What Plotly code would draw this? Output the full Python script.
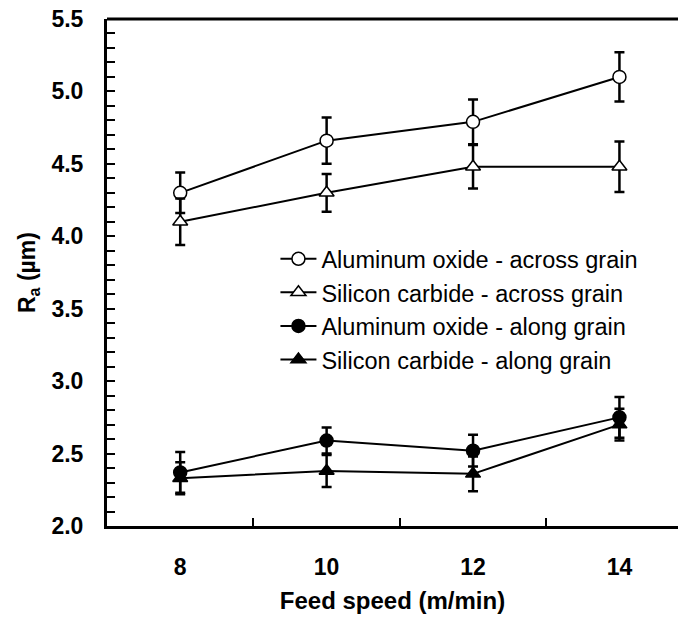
import plotly.graph_objects as go

# Feed speed (m/min)
feed_speed = [8, 10, 12, 14]

# Surface roughness Ra (µm) and error-bar half widths
al_across = [4.30, 4.66, 4.79, 5.10]
al_across_err = [0.14, 0.16, 0.155, 0.17]
si_across = [4.10, 4.30, 4.48, 4.48]
si_across_err = [0.16, 0.13, 0.15, 0.175]
al_along = [2.37, 2.59, 2.52, 2.75]
al_along_err = [0.14, 0.09, 0.11, 0.14]
si_along = [2.33, 2.38, 2.36, 2.70]
si_along_err = [0.11, 0.11, 0.12, 0.11]

series_names = [
    "Aluminum oxide - across grain",
    "Silicon carbide - across grain",
    "Aluminum oxide - along grain",
    "Silicon carbide - along grain",
]

x_tick_labels = ["8", "10", "12", "14"]

BLACK = "#000000"
FONT = "Liberation Sans, Arial, sans-serif"

fig = go.Figure()

series = [
    (al_across, al_across_err, "circle", "white"),
    (si_across, si_across_err, "triangle-up", "white"),
    (al_along, al_along_err, "circle", BLACK),
    (si_along, si_along_err, "triangle-up", BLACK),
]

for name, (vals, errs, symbol, fill) in zip(series_names, series):
    fig.add_trace(go.Scatter(
        x=feed_speed,
        y=vals,
        name=name,
        mode="lines+markers",
        line=dict(color=BLACK, width=2),
        marker=dict(symbol=symbol, size=13, color=fill,
                    line=dict(color=BLACK, width=1.5)),
        error_y=dict(type="data", array=errs, visible=True,
                     color=BLACK, thickness=2.5, width=5),
    ))

tick_font = dict(family=FONT, size=23, color=BLACK, weight="bold")

fig.update_layout(
    width=678,
    height=620,
    margin=dict(l=107, r=0, t=19, b=94),
    paper_bgcolor="white",
    plot_bgcolor="white",
    font=dict(family=FONT, color=BLACK),
    showlegend=True,
    legend=dict(
        x=0.295, y=0.57, xanchor="left", yanchor="top",
        bgcolor="rgba(0,0,0,0)",
        font=dict(family=FONT, size=23.5, color=BLACK),
        tracegroupgap=0,
        itemwidth=36,
    ),
    xaxis=dict(
        range=[7, 14.8],
        tickmode="array",
        tickvals=feed_speed,
        ticktext=x_tick_labels,
        ticks="",
        ticklabelstandoff=18,
        tickfont=tick_font,
        showline=True,
        linecolor=BLACK,
        linewidth=3,
        showgrid=False,
        zeroline=False,
        minor=dict(tickmode="array", tickvals=[9, 11, 13], ticks="inside",
                   ticklen=8, tickwidth=2, tickcolor=BLACK, showgrid=False),
        title=dict(text="Feed speed (m/min)",
                   font=dict(family=FONT, size=24, color=BLACK, weight="bold"),
                   standoff=14),
    ),
    yaxis=dict(
        range=[2.0, 5.5],
        tickmode="linear",
        tick0=2.0,
        dtick=0.5,
        tickformat=".1f",
        ticks="inside",
        ticklen=8,
        tickwidth=2,
        tickcolor=BLACK,
        ticklabelstandoff=16,
        tickfont=tick_font,
        showline=True,
        linecolor=BLACK,
        linewidth=3,
        showgrid=False,
        zeroline=False,
        minor=dict(dtick=0.1, ticks="inside", ticklen=8, tickwidth=2,
                   tickcolor=BLACK, showgrid=False),
        title=dict(text="R<sub>a</sub> (µm)",
                   font=dict(family=FONT, size=23, color=BLACK, weight="bold"),
                   standoff=10),
    ),
    shapes=[dict(type="line", xref="paper", yref="paper",
                 x0=0, x1=1, y0=1, y1=1,
                 line=dict(color=BLACK, width=3))],
)

fig.write_html("out.html")
